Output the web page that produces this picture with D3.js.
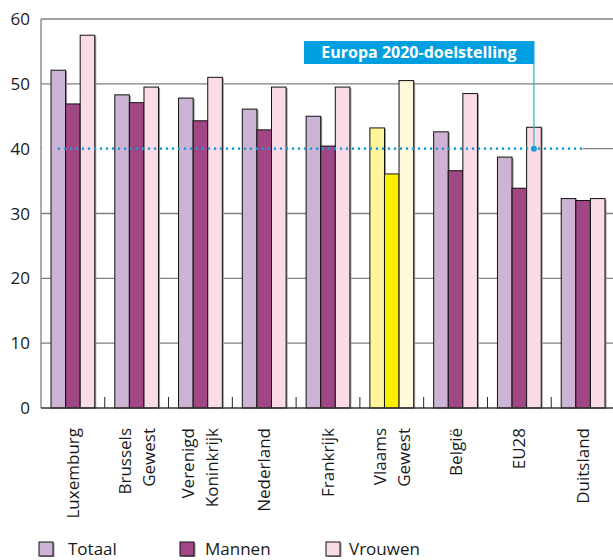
<!DOCTYPE html>
<html>
<head>
<meta charset="utf-8">
<script src="https://cdn.jsdelivr.net/npm/d3@7"></script>
<style>
  html, body { margin: 0; padding: 0; background: #fff; }
  svg { display: block; font-family: "Open Sans", sans-serif; }
</style>
</head>
<body>
<svg id="chart" width="613" height="560"></svg>
<script>
// ---- data ----
const categories = ["Luxemburg", "Brussels|Gewest", "Verenigd|Koninkrijk", "Nederland", "Frankrijk", "Vlaams|Gewest", "België", "EU28", "Duitsland"];
const seriesNames = ["Totaal", "Mannen", "Vrouwen"];
const totaal  = [52.1, 48.3, 47.8, 46.1, 45.0, 43.2, 42.6, 38.7, 32.3];
const mannen  = [46.9, 47.1, 44.3, 42.9, 40.4, 36.1, 36.6, 33.9, 32.0];
const vrouwen = [57.5, 49.5, 51.0, 49.5, 49.5, 50.5, 48.5, 43.3, 32.3];
const yTicks = [0, 10, 20, 30, 40, 50, 60];
const targetValue = 40;
const targetLabel = "Europa 2020-doelstelling";
const highlightCategory = "Vlaams|Gewest";
const targetAnchorCategory = "EU28";

// ---- layout ----
const svg = d3.select("#chart");
const plot = { left: 41, right: 615, top: 19, bottom: 408 };
const normalColors = ["#cdb3d4", "#a24785", "#f9dce6"];
const highlightColors = ["#fff59a", "#ffed00", "#fffadb"];

const x = d3.scaleBand().domain(categories).range([plot.left, plot.right]).paddingInner(0).paddingOuter(0);
const xInner = d3.scaleBand().domain(seriesNames).range([10, x.bandwidth() - 10]).padding(0);
const y = d3.scaleLinear().domain([0, 60]).range([plot.bottom, plot.top]);

const values = [totaal, mannen, vrouwen];
const rows = [];
categories.forEach((c, i) => {
  seriesNames.forEach((s, j) => {
    rows.push({ cat: c, series: s, si: j, value: values[j][i] });
  });
});

// gridlines
const grid = svg.append("g");
grid.selectAll("line").data(yTicks.filter(d => d > 0)).join("line")
  .attr("x1", plot.left).attr("x2", 613)
  .attr("y1", d => y(d)).attr("y2", d => y(d))
  .attr("stroke", "#808080").attr("stroke-width", 1.3);

// target line geometry
const anchorX = x(targetAnchorCategory) + xInner("Vrouwen") + xInner.bandwidth() / 2;
const dotStart = plot.left + 18;
const dotEnd = 583;
// blank out the gridline where target dotted line runs
svg.append("line")
  .attr("x1", plot.left + 1).attr("x2", dotEnd)
  .attr("y1", y(targetValue)).attr("y2", y(targetValue))
  .attr("stroke", "#fff").attr("stroke-width", 2.5);

// y axis line
svg.append("line")
  .attr("x1", plot.left).attr("x2", plot.left)
  .attr("y1", plot.top).attr("y2", plot.bottom)
  .attr("stroke", "#808080").attr("stroke-width", 1.3);

// y tick labels
svg.append("g").selectAll("text").data(yTicks).join("text")
  .attr("x", 30).attr("y", d => y(d))
  .attr("dy", "0.36em")
  .attr("text-anchor", "end")
  .attr("font-size", 17)
  .attr("fill", "#1a1a1a")
  .text(d => d);

// bars (shadow + bar)
const barsG = svg.append("g");
const colorFor = d => (d.cat === highlightCategory ? highlightColors : normalColors)[d.si];
barsG.selectAll("rect.shadow").data(rows).join("rect")
  .attr("class", "shadow")
  .attr("x", d => x(d.cat) + xInner(d.series) + 1.5)
  .attr("y", d => y(d.value) + 1)
  .attr("width", xInner.bandwidth())
  .attr("height", d => plot.bottom - y(d.value) - 1)
  .attr("fill", "#9a9a9a");
barsG.selectAll("rect.bar").data(rows).join("rect")
  .attr("class", "bar")
  .attr("x", d => x(d.cat) + xInner(d.series))
  .attr("y", d => y(d.value))
  .attr("width", xInner.bandwidth())
  .attr("height", d => plot.bottom - y(d.value))
  .attr("fill", colorFor)
  .attr("stroke", "#111")
  .attr("stroke-width", 1);

// baseline
svg.append("line")
  .attr("x1", plot.left).attr("x2", 613)
  .attr("y1", plot.bottom).attr("y2", plot.bottom)
  .attr("stroke", "#333").attr("stroke-width", 1.3);

// tick marks between groups
svg.append("g").selectAll("line").data(categories.slice(1)).join("line")
  .attr("x1", d => x(d)).attr("x2", d => x(d))
  .attr("y1", plot.bottom).attr("y2", plot.bottom - 11)
  .attr("stroke", "#222").attr("stroke-width", 1);

// x labels rotated
const lab = svg.append("g").selectAll("g").data(categories).join("g")
  .attr("transform", d => `translate(${x(d) + x.bandwidth() / 2},428) rotate(-90)`);
lab.each(function (d) {
  const lines = d.split("|");
  const n = lines.length;
  d3.select(this).selectAll("text").data(lines).join("text")
    .attr("x", 0)
    .attr("y", (l, i) => 6 + (i - (n - 1) / 2) * 24)
    .attr("text-anchor", "end")
    .attr("font-size", 17)
    .attr("fill", "#1a1a1a")
    .text(l => l);
});

// target dotted line
svg.append("line")
  .attr("x1", dotStart).attr("x2", dotEnd)
  .attr("y1", y(targetValue)).attr("y2", y(targetValue))
  .attr("stroke", "#1a9bd7").attr("stroke-width", 2.6)
  .attr("stroke-dasharray", "0 6")
  .attr("stroke-linecap", "round");

// label box and connector
const boxTop = 41, boxH = 23, boxLeft = 304;
svg.append("line")
  .attr("x1", anchorX).attr("x2", anchorX)
  .attr("y1", boxTop).attr("y2", y(targetValue))
  .attr("stroke", "#3bb4e6").attr("stroke-width", 1.3);
svg.append("circle")
  .attr("cx", anchorX).attr("cy", y(targetValue)).attr("r", 3)
  .attr("fill", "#1a9bd7");
svg.append("rect")
  .attr("x", boxLeft).attr("y", boxTop)
  .attr("width", anchorX - boxLeft).attr("height", boxH)
  .attr("fill", "#009fe0");
svg.append("text")
  .attr("x", (boxLeft + anchorX) / 2).attr("y", boxTop + boxH / 2)
  .attr("dy", "0.36em")
  .attr("text-anchor", "middle")
  .attr("font-size", 16).attr("font-weight", "bold")
  .attr("fill", "#fff")
  .text(targetLabel);

// legend
const legendX = [39, 180, 326];
const lg = svg.append("g").selectAll("g").data(seriesNames).join("g")
  .attr("transform", (d, i) => `translate(${legendX[i]},542)`);
lg.append("rect").attr("x", 1.5).attr("y", 1).attr("width", 14).attr("height", 14).attr("fill", "#9a9a9a");
lg.append("rect").attr("width", 14).attr("height", 14)
  .attr("fill", (d, i) => normalColors[i]).attr("stroke", "#111").attr("stroke-width", 1);
lg.append("text")
  .attr("x", (d, i) => i === 2 ? 23 : (i === 0 ? 29 : 25))
  .attr("y", 13)
  .attr("font-size", 17)
  .attr("fill", "#1a1a1a")
  .text(d => d);
</script>
</body>
</html>
